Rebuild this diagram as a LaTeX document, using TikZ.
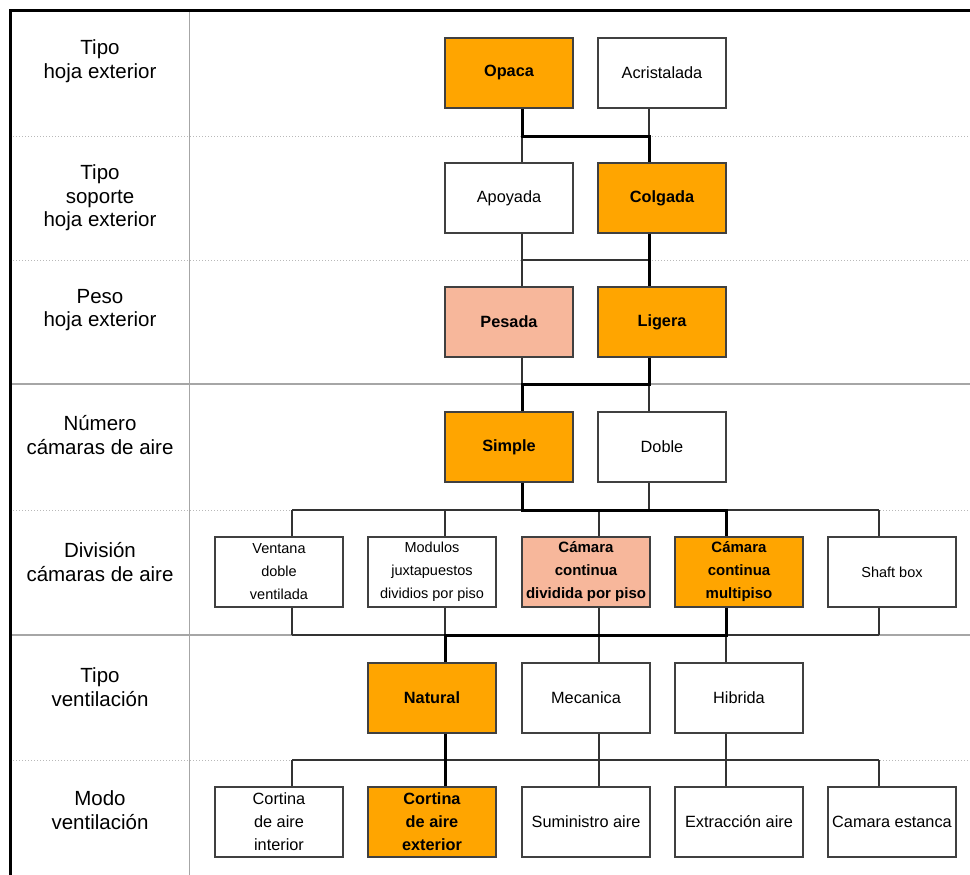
\documentclass[tikz,border=0pt]{standalone}
\usepackage{fontspec}
\setmainfont{Liberation Sans}
\usetikzlibrary{positioning}

\definecolor{optorange}{HTML}{FFA500}
\definecolor{optsalmon}{HTML}{F7B79B}

\begin{document}
\begin{tikzpicture}[x=1pt, y=-1pt,
  opt/.style={draw=black!75, line width=1.2pt, fill=white, minimum width=128pt,
    minimum height=70pt, inner sep=0pt, align=center, font=\fontsize{16.3}{23}\selectfont},
  optsmall/.style={opt, font=\fontsize{14.5}{23}\selectfont},
  chosen/.style={opt, fill=optorange, font=\fontsize{16.3}{23}\selectfont\bfseries},
  chosensmall/.style={chosen, font=\fontsize{15}{23}\selectfont\bfseries},
  altern/.style={chosen, fill=optsalmon},
  alternsmall/.style={chosensmall, fill=optsalmon},
  rowlabel/.style={align=center, font=\fontsize{20.5}{23.5}\selectfont},
  link/.style={line width=1.3pt, black!80},
  route/.style={line width=3pt, black, line join=miter},
  rowsep/.style={gray!55, dotted, line width=1pt},
  rowrule/.style={gray!70, line width=1.8pt}]
\useasboundingbox (0,0) rectangle (970,875);
\fill[white] (0,0) rectangle (970,875);

% Row separators and column divider
\foreach \y in {136,260,510,760}
    \draw[rowsep] (10,\y) -- (970,\y);
\foreach \y in {384,635}
    \draw[rowrule] (10,\y) -- (970,\y);
\draw[gray!70, line width=1pt] (189,11) -- (189,875);
\draw[line width=3pt] (10,875) -- (10,11) -- (970,11);

% Row labels
\node[rowlabel] (lab1) at (100,61) {Tipo\\hoja exterior};
\node[rowlabel] (lab2) at (100,198) {Tipo\\soporte\\hoja exterior};
\node[rowlabel] (lab3) at (100,310) {Peso\\hoja exterior};
\node[rowlabel] (lab4) at (100,435) {Número\\cámaras de aire};
\node[rowlabel] (lab5) at (100,562) {División\\cámaras de aire};
\node[rowlabel] (lab6) at (100,687) {Tipo\\ventilación};
\node[rowlabel] (lab7) at (100,810) {Modo\\ventilación};

% Options, row by row
\node[chosen] (opaca) at (509,73) {Opaca};
\node[opt] (acristalada) at (662,73) {Acristalada};

\node[opt] (apoyada) at (509,198) {Apoyada};
\node[chosen] (colgada) at (662,198) {Colgada};

\node[altern] (pesada) at (509,322) {Pesada};
\node[chosen] (ligera) at (662,322) {Ligera};

\node[chosen] (simple) at (509,447) {Simple};
\node[opt] (doble) at (662,447) {Doble};

\node[optsmall] (ventana) at (279,572) {Ventana\\doble\\ventilada};
\node[optsmall] (modulos) at (432,572) {Modulos\\juxtapuestos\\dividios por piso};
\node[alternsmall] (dividida) at (586,572) {Cámara\\continua\\dividida por piso};
\node[chosensmall] (multipiso) at (739,572) {Cámara\\continua\\multipiso};
\node[optsmall] (shaft) at (892,572) {Shaft box};

\node[chosen] (natural) at (432,698) {Natural};
\node[opt] (mecanica) at (586,698) {Mecanica};
\node[opt] (hibrida) at (739,698) {Hibrida};

\node[opt] (cortint) at (279,822) {Cortina\\de aire\\interior};
\node[chosen] (cortext) at (432,822) {Cortina\\de aire\\exterior};
\node[opt] (suministro) at (586,822) {Suministro aire};
\node[opt] (extraccion) at (739,822) {Extracción aire};
\node[opt] (estanca) at (892,822) {Camara estanca};

% Bus points between rows
\coordinate (a1) at (522,136); \coordinate (a2) at (649,136);
\coordinate (b1) at (522,260); \coordinate (b2) at (649,260);
\coordinate (c1) at (522,384); \coordinate (c2) at (649,384);
\coordinate (d1) at (292,510); \coordinate (d2) at (445,510);
\coordinate (d3) at (522,510); \coordinate (d4) at (599,510);
\coordinate (d5) at (649,510); \coordinate (d6) at (726,510);
\coordinate (d7) at (879,510);
\coordinate (e1) at (292,635); \coordinate (e2) at (445,635);
\coordinate (e3) at (599,635); \coordinate (e4) at (726,635);
\coordinate (e5) at (879,635);
\coordinate (f1) at (292,760); \coordinate (f3) at (599,760);
\coordinate (f4) at (726,760); \coordinate (f5) at (879,760);

% Thin connectors
\draw[link] ([xshift=-13pt]acristalada.south) -- (a2);
\draw[link] ([xshift=13pt]apoyada.north) -- (a1);
\draw[link] ([xshift=13pt]apoyada.south) -- (b1) -- (b2);
\draw[link] ([xshift=13pt]pesada.north) -- (b1);
\draw[link] ([xshift=13pt]pesada.south) -- (c1);
\draw[link] ([xshift=-13pt]doble.north) -- (c2);
\draw[link] ([xshift=-13pt]doble.south) -- (d5);
\draw[link] (d1) -- (d7);
\draw[link] (d1) -- ([xshift=13pt]ventana.north);
\draw[link] (d2) -- ([xshift=13pt]modulos.north);
\draw[link] (d4) -- ([xshift=13pt]dividida.north);
\draw[link] (d7) -- ([xshift=-13pt]shaft.north);
\draw[link] (e1) -- (e5);
\draw[link] ([xshift=13pt]ventana.south) -- (e1);
\draw[link] ([xshift=13pt]modulos.south) -- (e2);
\draw[link] ([xshift=13pt]dividida.south) -- (e3);
\draw[link] ([xshift=-13pt]shaft.south) -- (e5);
\draw[link] (e3) -- ([xshift=13pt]mecanica.north);
\draw[link] (e4) -- ([xshift=-13pt]hibrida.north);
\draw[link] (f1) -- (f5);
\draw[link] ([xshift=13pt]mecanica.south) -- (f3);
\draw[link] ([xshift=-13pt]hibrida.south) -- (f4);
\draw[link] (f1) -- ([xshift=13pt]cortint.north);
\draw[link] (f3) -- ([xshift=13pt]suministro.north);
\draw[link] (f4) -- ([xshift=-13pt]extraccion.north);
\draw[link] (f5) -- ([xshift=-13pt]estanca.north);

% Selected route
\draw[route] ([xshift=13pt]opaca.south) -- (a1) -- (a2) -- ([xshift=-13pt]colgada.north);
\draw[route] ([xshift=-13pt]colgada.south) -- ([xshift=-13pt]ligera.north);
\draw[route] ([xshift=-13pt]ligera.south) -- (c2) -- (c1) -- ([xshift=13pt]simple.north);
\draw[route] ([xshift=13pt]simple.south) -- (d3) -- (d6) -- ([xshift=-13pt]multipiso.north);
\draw[route] ([xshift=-13pt]multipiso.south) -- (e4) -- (e2) -- ([xshift=13pt]natural.north);
\draw[route] ([xshift=13pt]natural.south) -- ([xshift=13pt]cortext.north);
\end{tikzpicture}
\end{document}
